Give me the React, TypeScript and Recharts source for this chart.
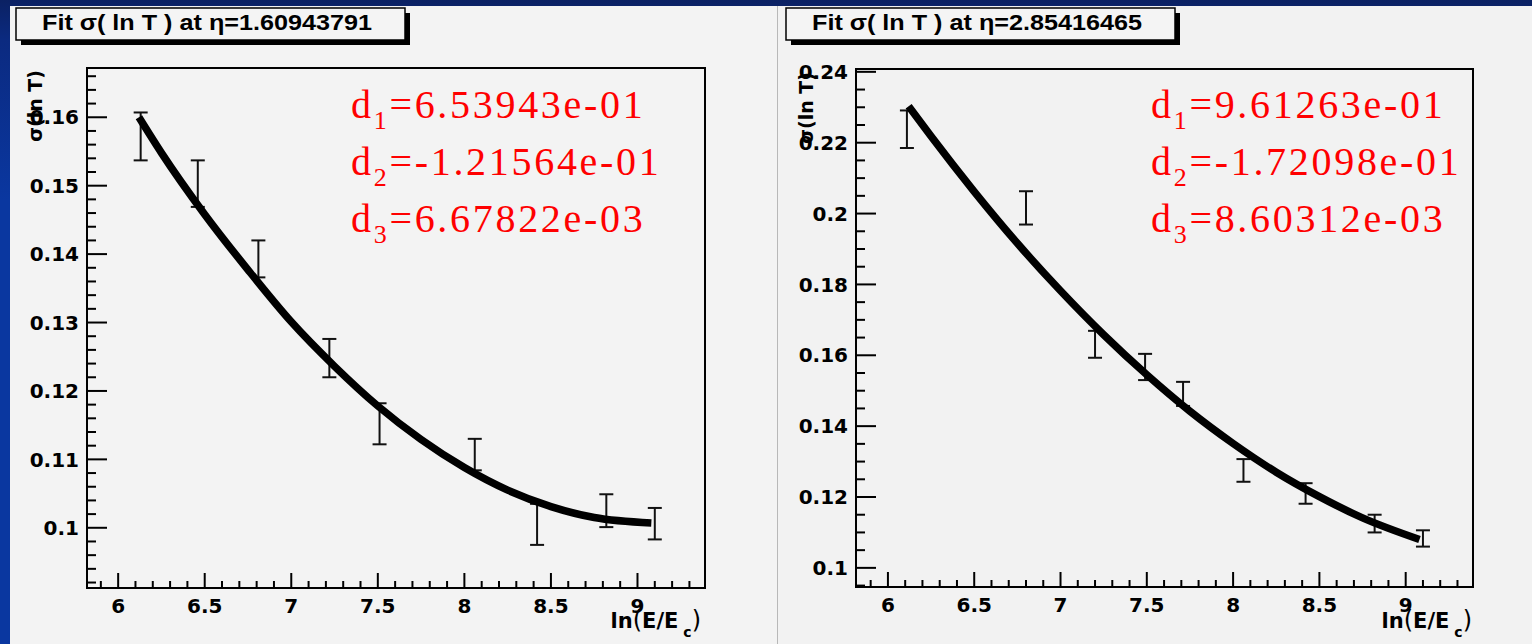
import React from 'react'
import { ComposedChart, Line, Scatter, ErrorBar, XAxis, YAxis, ReferenceArea } from 'recharts'

// measured points, eta = 1.60943791
const leftX = [6.13, 6.46, 6.81, 7.22, 7.51, 8.06, 8.42, 8.82, 9.1]
const leftSigma = [0.1572, 0.1503, 0.1393, 0.1248, 0.1152, 0.1107, 0.1005, 0.1025, 0.1006]
const leftErr = [0.0035, 0.0034, 0.0027, 0.0028, 0.003, 0.0023, 0.003, 0.0024, 0.0023]

// measured points, eta = 2.85416465
const rightX = [6.11, 6.8, 7.2, 7.49, 7.71, 8.06, 8.42, 8.82, 9.1]
const rightSigma = [0.2238, 0.2016, 0.1631, 0.1567, 0.1491, 0.1275, 0.121, 0.1125, 0.1083]
const rightErr = [0.0053, 0.0047, 0.0038, 0.0037, 0.0034, 0.0032, 0.0029, 0.0025, 0.0023]

// fitted curves
const fitX = [6.12, 6.25, 6.5, 6.75, 7.0, 7.25, 7.5, 7.75, 8.0, 8.25, 8.5, 8.75, 9.08]
const leftFit = [0.16, 0.1548, 0.1458, 0.1377, 0.1301, 0.1236, 0.1178, 0.1129, 0.1088, 0.1055, 0.1031, 0.1015, 0.1007]
const rightFit = [0.2303, 0.2218, 0.2062, 0.1916, 0.1782, 0.1658, 0.1545, 0.1442, 0.1351, 0.127, 0.1201, 0.1141, 0.108]

const xMajor = [6, 6.5, 7, 7.5, 8, 8.5, 9]
const leftYMajor = [0.1, 0.11, 0.12, 0.13, 0.14, 0.15, 0.16]
const rightYMajor = [0.1, 0.12, 0.14, 0.16, 0.18, 0.2, 0.22, 0.24]

const leftTitle = 'Fit σ( ln T ) at η=1.60943791'
const rightTitle = 'Fit σ( ln T ) at η=2.85416465'
const leftParams = ['6.53943e-01', '-1.21564e-01', '6.67822e-03']
const rightParams = ['9.61263e-01', '-1.72098e-01', '8.60312e-03']

const range = (a: number, b: number, step: number) => {
  const out: number[] = []
  for (let v = a; v <= b + 1e-9; v += step) out.push(Number(v.toFixed(4)))
  return out
}

const isMajor = (v: number, majors: number[]) => majors.some((m) => Math.abs(m - v) < 1e-6)

const tickFont = { fontFamily: 'DejaVu Sans', fontWeight: 700, fontSize: 20 }

function YTick(props: any) {
  const { x, y, payload, majors } = props
  const major = isMajor(payload.value, majors)
  return (
    <g>
      <line x1={x} y1={y} x2={x + (major ? 20 : 9)} y2={y} stroke="#000" strokeWidth={2} />
      {major && (
        <text x={x - 8} y={y} dy="0.36em" textAnchor="end" fill="#000" {...tickFont}>
          {String(payload.value)}
        </text>
      )}
    </g>
  )
}

function XTick(props: any) {
  const { x, y, payload } = props
  const major = isMajor(payload.value, xMajor)
  return (
    <g>
      <line x1={x} y1={y} x2={x} y2={y - (major ? 15 : 7)} stroke="#000" strokeWidth={2} />
      {major && (
        <text x={x} y={y + 25} textAnchor="middle" fill="#000" {...tickFont}>
          {String(payload.value)}
        </text>
      )}
    </g>
  )
}

type PanelProps = {
  plotLeft: number
  plotTop: number
  plotW: number
  plotH: number
  xDomain: [number, number]
  yDomain: [number, number]
  yTicks: number[]
  yMajor: number[]
  xs: number[]
  sigma: number[]
  err: number[]
  fit: number[]
}

function FitPanel(p: PanelProps) {
  const points = p.xs.map((x, i) => ({ x, y: p.sigma[i], err: p.err[i] }))
  const curve = fitX.map((x, i) => ({ x, y: p.fit[i] }))
  const xTicks = range(5.9, 9.3, 0.1)
  return (
    <div style={{ position: 'absolute', left: p.plotLeft - 80, top: p.plotTop - 10 }}>
      <ComposedChart
        width={80 + p.plotW + 10}
        height={10 + p.plotH + 50}
        margin={{ top: 10, right: 10, left: 0, bottom: 0 }}
      >
        <XAxis
          type="number"
          dataKey="x"
          domain={p.xDomain}
          allowDataOverflow
          ticks={xTicks}
          interval={0}
          height={50}
          tickSize={0}
          tickMargin={0}
          tickLine={false}
          axisLine={{ stroke: '#000', strokeWidth: 2 }}
          tick={(t: any) => <XTick {...t} />}
        />
        <YAxis
          type="number"
          dataKey="y"
          domain={p.yDomain}
          allowDataOverflow
          ticks={p.yTicks}
          interval={0}
          width={80}
          tickSize={0}
          tickMargin={0}
          tickLine={false}
          axisLine={{ stroke: '#000', strokeWidth: 2 }}
          tick={(t: any) => <YTick {...t} majors={p.yMajor} />}
        />
        <ReferenceArea
          x1={p.xDomain[0]}
          x2={p.xDomain[1]}
          y1={p.yDomain[0]}
          y2={p.yDomain[1]}
          fill="none"
          stroke="#000"
          strokeWidth={2}
          ifOverflow="visible"
        />
        <Scatter data={points} shape={() => <g />} isAnimationActive={false}>
          <ErrorBar dataKey="err" direction="y" width={7} stroke="#111" strokeWidth={2} isAnimationActive={false} />
        </Scatter>
        <Line
          data={curve}
          dataKey="y"
          type="monotone"
          stroke="#000"
          strokeWidth={7.5}
          dot={false}
          activeDot={false}
          isAnimationActive={false}
        />
      </ComposedChart>
    </div>
  )
}

function ParamText({ x, params }: { x: number; params: string[] }) {
  return (
    <>
      {params.map((v, i) => (
        <text
          key={i}
          x={x}
          y={118 + i * 57}
          fill="#ff0000"
          fontFamily="Liberation Serif"
          fontSize={40}
          letterSpacing={2.7}
        >
          d
          <tspan fontSize={26} dy={11}>{i + 1}</tspan>
          <tspan dy={-11}>={v}</tspan>
        </text>
      ))}
    </>
  )
}

function TitleBox({ x, w, text }: { x: number; w: number; text: string }) {
  return (
    <g>
      <rect x={x + 5} y={13} width={w} height={32} fill="#000" />
      <rect x={x} y={8} width={w} height={32} fill="#f4f4f4" stroke="#000" strokeWidth={1.5} />
      <text
        x={x + 26}
        y={30}
        fill="#000"
        fontFamily="Liberation Sans"
        fontWeight={700}
        fontSize={22}
        textLength={330}
        lengthAdjust="spacingAndGlyphs"
      >
        {text}
      </text>
    </g>
  )
}

function AxisTitles({ yx, yEnd, xRight }: { yx: number; yEnd: number; xRight: number }) {
  return (
    <g fill="#000" fontFamily="DejaVu Sans" fontWeight={700}>
      <text x={yx} y={yEnd} fontSize={19} textAnchor="end" transform={`rotate(-90 ${yx} ${yEnd})`}>
        σ(ln T)
      </text>
      <text x={xRight} y={628} fontSize={21} textAnchor="end">
        ln<tspan fontWeight={400} fontSize={24}>(</tspan>E/E
        <tspan fontSize={14} dy={9}> c</tspan>
        <tspan fontWeight={400} fontSize={24} dy={-9}>)</tspan>
      </text>
    </g>
  )
}

export default function App() {
  return (
    <div
      style={{
        position: 'absolute',
        left: 0,
        top: 0,
        width: 1532,
        height: 644,
        overflow: 'hidden',
        background: 'linear-gradient(180deg, #0b2163 0px, #0b2a80 40px, #0a37a0 200px)',
      }}
    >
      <div style={{ position: 'absolute', left: 10, top: 6, width: 767, height: 638, background: '#f3f3f3', borderRight: '1px solid #b8b8b8' }} />
      <div style={{ position: 'absolute', left: 778, top: 6, width: 754, height: 638, background: '#f2f2f2' }} />

      <FitPanel
        plotLeft={87}
        plotTop={68}
        plotW={618}
        plotH={520}
        xDomain={[5.82, 9.39]}
        yDomain={[0.0912, 0.1672]}
        yTicks={range(0.092, 0.166, 0.002)}
        yMajor={leftYMajor}
        xs={leftX}
        sigma={leftSigma}
        err={leftErr}
        fit={leftFit}
      />
      <FitPanel
        plotLeft={856}
        plotTop={69}
        plotW={617}
        plotH={518}
        xDomain={[5.815, 9.39]}
        yDomain={[0.0946, 0.2408]}
        yTicks={range(0.095, 0.24, 0.005)}
        yMajor={rightYMajor}
        xs={rightX}
        sigma={rightSigma}
        err={rightErr}
        fit={rightFit}
      />

      <svg width={1532} height={644} style={{ position: 'absolute', left: 0, top: 0, pointerEvents: 'none' }}>
        <TitleBox x={16} w={389} text={leftTitle} />
        <TitleBox x={786} w={389} text={rightTitle} />
        <AxisTitles yx={42} yEnd={70} xRight={701} />
        <AxisTitles yx={813} yEnd={72} xRight={1472} />
        <ParamText x={351} params={leftParams} />
        <ParamText x={1151} params={rightParams} />
      </svg>
    </div>
  )
}
